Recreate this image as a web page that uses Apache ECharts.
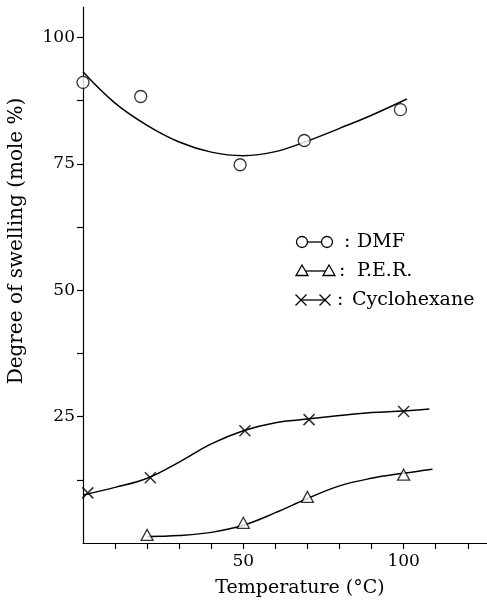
<!DOCTYPE html>
<html>
<head>
<meta charset="utf-8">
<script src="https://cdn.jsdelivr.net/npm/echarts@6/dist/echarts.min.js"></script>
<style>html,body{margin:0;padding:0;background:#fff;}#c{width:487px;height:603px;}</style>
</head>
<body>
<div id="c"></div>
<script>
// Measured points
const dmfX = [0, 18, 49, 69, 99];
const dmfY = [91.1, 88.3, 74.8, 79.6, 85.7];
const perX = [20, 50, 70, 100];
const perY = [1.6, 4.0, 9.1, 13.5];
const cycX = [1.5, 21, 50.5, 70.5, 100];
const cycY = [9.9, 12.9, 22.2, 24.4, 26.0];
// Fitted curves
const dmfCurveX = [0, 10, 20, 30, 40, 50, 60, 70, 80, 90, 101];
const dmfCurveY = [93.2, 87.0, 82.6, 79.3, 77.3, 76.6, 77.4, 79.5, 82.0, 84.6, 87.8];
const cycCurveX = [0, 10, 20, 30, 40, 50, 60, 70, 80, 90, 100, 108];
const cycCurveY = [9.5, 11.0, 12.8, 16.0, 19.6, 22.2, 23.8, 24.5, 25.2, 25.8, 26.1, 26.5];
const perCurveX = [20, 30, 40, 50, 60, 70, 80, 90, 100, 109];
const perCurveY = [1.3, 1.5, 2.1, 3.5, 6.0, 8.8, 11.3, 12.8, 13.8, 14.6];
// Ticks
const xTicks = [10, 20, 30, 40, 50, 60, 70, 80, 90, 100, 110, 120];
const xLabels = [50, 100];
const yTicks = [12.5, 25, 37.5, 50, 62.5, 75, 87.5, 100];
const yLabels = [25, 50, 75, 100];
const xTitle = 'Temperature (°C)';
const yTitle = 'Degree of swelling (mole %)';
const legendNames = ['DMF', 'P.E.R.', 'Cyclohexane'];

const FONT = 'DejaVu Serif';
const zip = (xs, ys) => xs.map((x, i) => [x, ys[i]]);
const crossPath = 'path://M0,0L10,10M10,0L0,10';
const triPath = 'path://M5,0L10,9L0,9Z';

const chart = echarts.init(document.getElementById('c'));
const lineStyle = {color: '#000', width: 1.5};
const axisLine = {show: true, lineStyle: {color: '#000', width: 1.2}};

function legendRow(y, kind, text, x1, x2, cx, tx) {
  const ch = [];
  const sym = (cx) => {
    if (kind === 'circle') return {type: 'circle', shape: {cx: cx, cy: y, r: 5.5}, style: {fill: '#fff', stroke: '#000', lineWidth: 1.3}};
    if (kind === 'tri') return {type: 'polygon', shape: {points: [[cx, y - 6], [cx + 6, y + 4.5], [cx - 6, y + 4.5]]}, style: {fill: '#fff', stroke: '#000', lineWidth: 1.3}};
    return {type: 'group', children: [
      {type: 'line', shape: {x1: cx - 5.5, y1: y - 5.5, x2: cx + 5.5, y2: y + 5.5}, style: {stroke: '#000', lineWidth: 1.2}},
      {type: 'line', shape: {x1: cx + 5.5, y1: y - 5.5, x2: cx - 5.5, y2: y + 5.5}, style: {stroke: '#000', lineWidth: 1.2}}
    ]};
  };
  ch.push({type: 'line', shape: {x1: x1, y1: y, x2: x2, y2: y}, style: {stroke: '#000', lineWidth: 1.3}});
  ch.push(sym(x1));
  ch.push(sym(x2));
  ch.push({type: 'text', x: cx, y: y, style: {text: ':', font: '19px "' + FONT + '"', fill: '#000', align: 'left', verticalAlign: 'middle'}});
  ch.push({type: 'text', x: tx, y: y, style: {text: text, font: '19px "' + FONT + '"', fill: '#000', align: 'left', verticalAlign: 'middle'}});
  return ch;
}

const option = {
  backgroundColor: '#fff',
  animation: false,
  grid: {left: 83, right: 0, top: 7, bottom: 60},
  xAxis: {
    type: 'value', min: 0, max: 126,
    axisLine: axisLine,
    splitLine: {show: false},
    axisTick: {show: true, length: 6, lineStyle: {color: '#000', width: 1.2}, customValues: xTicks},
    axisLabel: {customValues: xLabels, color: '#000', fontFamily: FONT, fontSize: 17, margin: 10}
  },
  yAxis: {
    type: 'value', min: 0, max: 106,
    axisLine: axisLine,
    splitLine: {show: false},
    axisTick: {show: true, length: 6, lineStyle: {color: '#000', width: 1.2}, customValues: yTicks},
    axisLabel: {customValues: yLabels, color: '#000', fontFamily: FONT, fontSize: 17, margin: 8}
  },
  graphic: [
    {type: 'text', x: 300, y: 588, style: {text: xTitle, font: '19px "' + FONT + '"', fill: '#000', align: 'center', verticalAlign: 'middle'}},
    {type: 'text', x: 17, y: 241, rotation: Math.PI / 2, style: {text: yTitle, font: '20px "' + FONT + '"', fill: '#000', align: 'center', verticalAlign: 'middle'}},
    {type: 'group', children: legendRow(242, 'circle', legendNames[0], 302, 327, 344, 357)},
    {type: 'group', children: legendRow(271, 'tri', legendNames[1], 302, 329, 339, 357)},
    {type: 'group', children: legendRow(300, 'cross', legendNames[2], 301, 325, 337, 352)}
  ],
  series: [
    {type: 'line', data: zip(dmfCurveX, dmfCurveY), smooth: 0.4, showSymbol: false, lineStyle: lineStyle, z: 2, silent: true},
    {type: 'line', data: zip(cycCurveX, cycCurveY), smooth: 0.4, showSymbol: false, lineStyle: lineStyle, z: 2, silent: true},
    {type: 'line', data: zip(perCurveX, perCurveY), smooth: 0.4, showSymbol: false, lineStyle: lineStyle, z: 2, silent: true},
    {name: legendNames[0], type: 'scatter', data: zip(dmfX, dmfY), symbol: 'circle', symbolSize: 12,
      itemStyle: {color: '#fff', borderColor: '#000', borderWidth: 1.3}, z: 5},
    {name: legendNames[1], type: 'scatter', data: zip(perX, perY), symbol: triPath, symbolSize: [12, 11],
      itemStyle: {color: '#fff', borderColor: '#000', borderWidth: 1.3}, z: 5},
    {name: legendNames[2], type: 'scatter', data: zip(cycX, cycY), symbol: crossPath, symbolSize: 11,
      itemStyle: {color: '#000', borderColor: '#000', borderWidth: 1.6}, z: 5}
  ]
};
chart.setOption(option);
</script>
</body>
</html>
